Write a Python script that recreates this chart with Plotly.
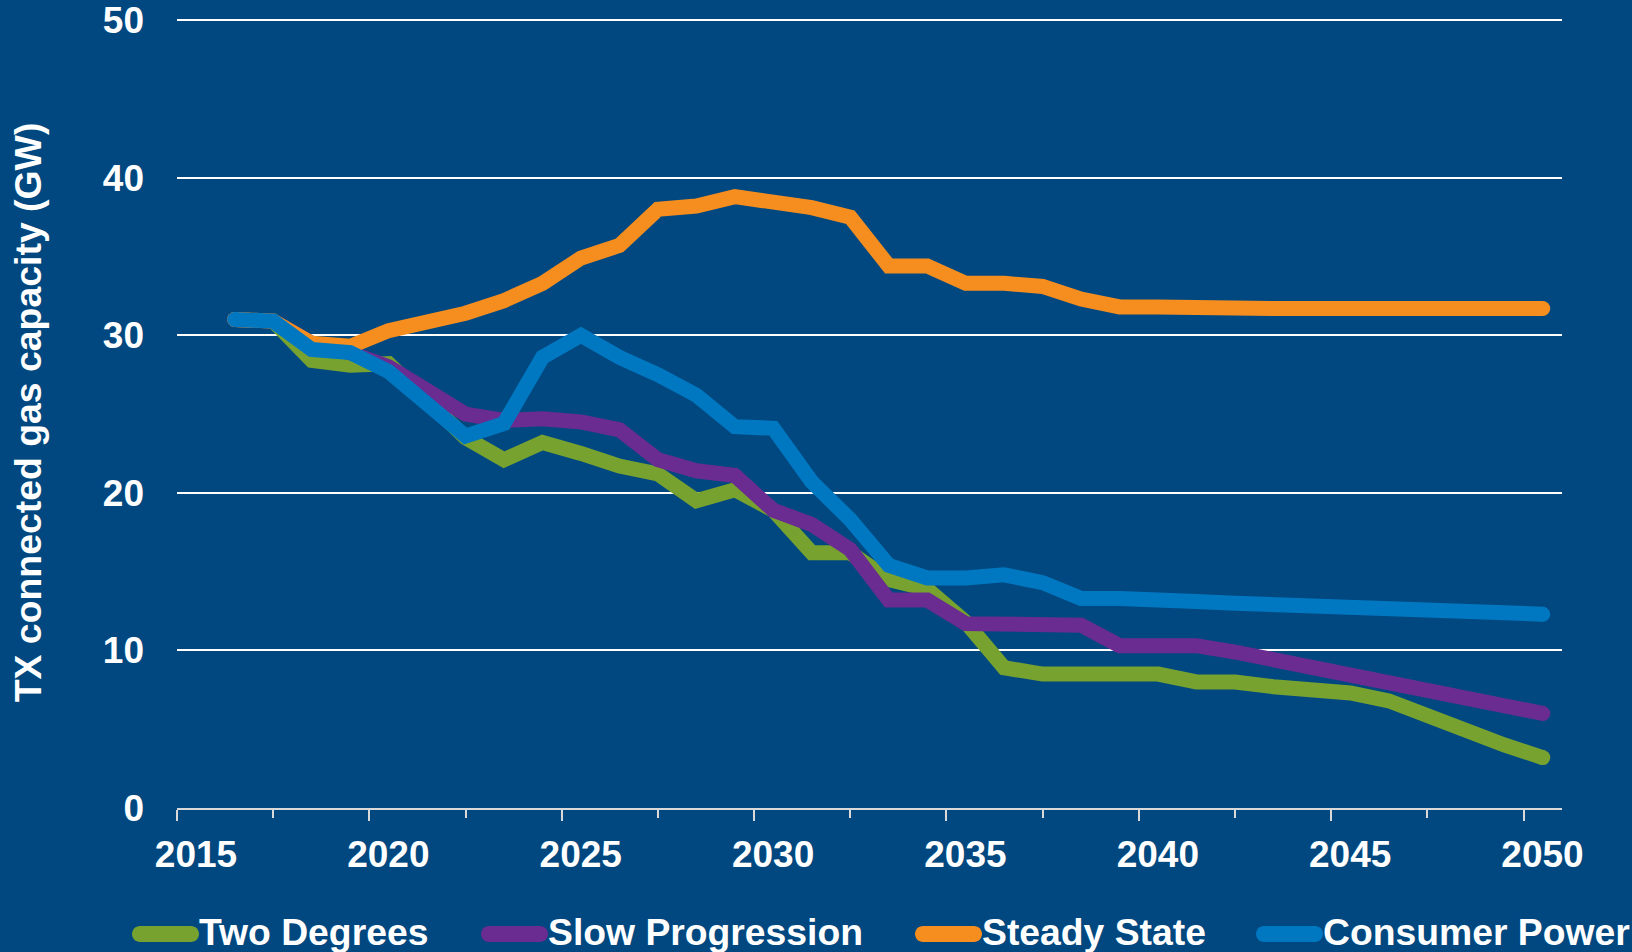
import plotly.graph_objects as go

years = list(range(2016, 2051))

two_degrees = [31.0, 30.9, 28.4, 28.1, 28.2, 25.9, 23.5, 22.1, 23.2, 22.5,
               21.7, 21.2, 19.5, 20.2, 18.9, 16.2, 16.2, 14.5, 13.9, 11.8,
               8.9, 8.5, 8.5, 8.5, 8.5, 8.0, 8.0, 7.7, 7.5, 7.3,
               6.8, 5.8, 4.8, 4.0, 3.2]
slow_progression = [31.0, 30.9, 29.5, 28.9, 28.0, 26.5, 25.0, 24.6, 24.7, 24.5,
                    24.0, 22.1, 21.4, 21.1, 18.9, 18.0, 16.4, 13.2, 13.2, 11.7,
                    11.7, 11.6, 11.6, 10.3, 10.3, 10.3, 9.9, 9.4, 8.9, 8.4,
                    7.9, 7.4, 6.9, 6.4, 6.0]
steady_state = [31.0, 30.9, 29.5, 29.3, 30.3, 30.8, 31.4, 32.2, 33.3, 34.9,
                35.7, 38.0, 38.2, 38.8, 38.5, 38.1, 37.5, 34.4, 34.4, 33.3,
                33.3, 33.1, 32.3, 31.8, 31.8, 31.7, 31.7, 31.7, 31.7, 31.7,
                31.7, 31.7, 31.7, 31.7, 31.7]
consumer_power = [31.0, 30.9, 29.1, 28.9, 27.7, 25.7, 23.6, 24.4, 28.6, 30.0,
                  28.6, 27.5, 26.2, 24.2, 24.1, 20.7, 18.3, 15.4, 14.6, 14.6,
                  14.8, 14.3, 13.3, 13.3, 13.3, 13.1, 13.0, 12.9, 12.8, 12.7,
                  12.6, 12.5, 12.4, 12.3, 12.3]

label_years = [2015, 2020, 2025, 2030, 2035, 2040, 2045, 2050]

series = [
    ("Two Degrees", two_degrees, "#77A22F"),
    ("Slow Progression", slow_progression, "#6B2C91"),
    ("Steady State", steady_state, "#F68E1F"),
    ("Consumer Power", consumer_power, "#0078C1"),
]

BG = "#00487F"
FONT = "Liberation Sans, Arial, sans-serif"

# plot area in pixels
L, R, T, B = 177, 70, 17, 144
PW, PH = 1632 - L - R, 952 - T - B


def px_x(p):
    return (p - L) / PW


def px_y(p):
    return (952 - B - p) / PH


fig = go.Figure()
for name, vals, color in series:
    fig.add_trace(go.Scatter(x=years, y=vals, name=name, mode="lines",
                             line=dict(color=color, width=15)))
    # round line ends
    fig.add_trace(go.Scatter(x=[years[0], years[-1]], y=[vals[0], vals[-1]],
                             mode="markers", showlegend=False, hoverinfo="skip",
                             marker=dict(color=color, size=15)))

# hand-made legend: rounded swatch + label
legend_left = [132, 481, 915, 1256]
swatch = ("M0,-8 L51,-8 C55.42,-8 59,-4.42 59,0 C59,4.42 55.42,8 51,8 "
          "L0,8 C-4.42,8 -8,4.42 -8,0 C-8,-4.42 -4.42,-8 0,-8 Z")
for (name, vals, color), left in zip(series, legend_left):
    fig.add_shape(type="path", path=swatch, xref="paper", yref="paper",
                  xsizemode="pixel", ysizemode="pixel",
                  xanchor=px_x(left + 8), yanchor=px_y(934),
                  fillcolor=color, line=dict(width=0))
    fig.add_annotation(text=name, x=px_x(left + 65), y=px_y(932),
                       xref="paper", yref="paper", xanchor="left",
                       yanchor="middle", showarrow=False,
                       font=dict(size=37.3, color="white", family=FONT,
                                 weight="bold"))

fig.update_layout(
    width=1632, height=952,
    paper_bgcolor=BG, plot_bgcolor=BG,
    margin=dict(l=L, r=R, t=T, b=B, autoexpand=False),
    font=dict(family=FONT, size=37, color="white", weight="bold"),
    showlegend=False,
    xaxis=dict(range=[2014.5, 2050.5], tickmode="array",
               tickvals=[y - 0.5 for y in label_years],
               ticktext=[str(y) for y in label_years],
               ticklabelshift=19, ticks="outside", ticklen=11, tickwidth=2,
               tickcolor="#D9D9D9", showline=True, linecolor="#D9D9D9",
               linewidth=2, showgrid=False, zeroline=False,
               ticklabelstandoff=2, ticklabeloverflow="allow",
               minor=dict(tickvals=[y + 2 for y in label_years[:-1]],
                          ticks="outside", ticklen=8, tickwidth=2,
                          tickcolor="#D9D9D9", showgrid=False)),
    yaxis=dict(range=[0, 50.2], tickvals=[0, 10, 20, 30, 40, 50], ticks="",
               showgrid=True, gridcolor="white", gridwidth=2, zeroline=False,
               showline=False, ticklabelstandoff=32, ticklabeloverflow="allow",
               title=dict(text="TX connected gas capacity (GW)", standoff=49,
                          font=dict(size=37.4, family=FONT, color="white",
                                    weight="bold"))),
)

fig.write_html("out.html", config={"displayModeBar": False},
               post_script="document.body.style.margin = '0';")
